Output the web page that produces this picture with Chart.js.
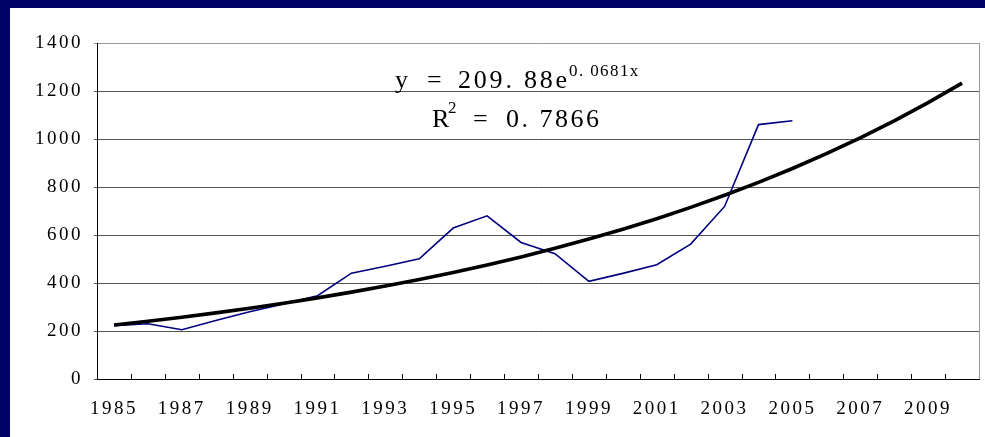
<!DOCTYPE html>
<html>
<head>
<meta charset="utf-8">
<script src="https://cdn.jsdelivr.net/npm/chart.js@4/dist/chart.umd.min.js"></script>
<style>
  html, body { margin: 0; padding: 0; background: #ffffff; overflow: hidden; }
  #topband { position: absolute; left: 0; top: 0; width: 100%; height: 8px; background: #000066; }
  #leftband { position: absolute; left: 0; top: 0; width: 10px; height: 100%; min-height: 437px; background: #000066; }
  #wrap { position: absolute; left: 10px; top: 8px; width: 975px; height: 429px; }
  canvas { display: block; }
</style>
</head>
<body>
<div id="topband"></div>
<div id="leftband"></div>
<div id="wrap"><canvas id="c" width="975" height="429"></canvas></div>
<script>
// Years on the category axis
const years = [1985, 1986, 1987, 1988, 1989, 1990, 1991, 1992, 1993, 1994, 1995, 1996, 1997,
               1998, 1999, 2000, 2001, 2002, 2003, 2004, 2005, 2006, 2007, 2008, 2009, 2010];

// Observed series (1985–2005)
const observed = [222, 230, 205, 244, 280, 313, 347, 441, 470, 501, 629, 680, 569,
                  522, 407, 440, 476, 562, 719, 1060, 1076, null, null, null, null, null];

// Exponential trend y = 209.88e^(0.0681x), x = 1..26
const trend = [224.7, 240.5, 257.5, 275.6, 295.0, 315.8, 338.1, 361.9, 387.4, 414.7, 443.9, 475.2, 508.7,
               544.5, 582.9, 624.0, 667.9, 715.0, 765.4, 819.3, 877.1, 938.9, 1005.1, 1075.9, 1151.7, 1232.9];

// Value-axis ticks
const yTicks = [0, 200, 400, 600, 800, 1000, 1200, 1400];

// Trend equation text
const eqCoef = '209. 88e';
const eqExp = '0. 0681x';
const r2Text = '0. 7866';

const serif = '"Liberation Serif", "DejaVu Serif", serif';

const spacingPlugin = {
  id: 'spacing',
  beforeDraw(chart) { chart.ctx.letterSpacing = '2.5px'; },
  afterDraw(chart) { chart.ctx.letterSpacing = '0px'; }
};

// Right border and inward category tick marks
const framePlugin = {
  id: 'frame',
  afterDraw(chart) {
    const { ctx, chartArea: a, scales } = chart;
    ctx.save();
    ctx.strokeStyle = '#999';
    ctx.lineWidth = 1;
    ctx.beginPath();
    ctx.moveTo(Math.round(a.right) + 0.5, a.top);
    ctx.lineTo(Math.round(a.right) + 0.5, a.bottom);
    ctx.stroke();
    const xs = scales.x;
    const step = xs.getPixelForValue(1) - xs.getPixelForValue(0);
    ctx.strokeStyle = '#000';
    ctx.beginPath();
    for (let i = 1; i < years.length; i++) {
      const px = Math.round(xs.getPixelForValue(i) - step / 2) + 0.5;
      ctx.moveTo(px, a.bottom);
      ctx.lineTo(px, a.bottom - 5);
    }
    ctx.stroke();
    ctx.restore();
  }
};

// Trend equation and R² text
const equationPlugin = {
  id: 'equation',
  afterDraw(chart) {
    const ctx = chart.ctx;
    const a = chart.chartArea;
    const ox = a.left + 298;   // left of the text block
    const oy = a.top + 45;     // baseline of the first line
    ctx.save();
    ctx.fillStyle = '#000';
    ctx.textBaseline = 'alphabetic';
    ctx.textAlign = 'left';
    const big = '26px ' + serif;
    const small = '17px ' + serif;
    ctx.font = big;
    ctx.letterSpacing = '0px';
    ctx.fillText('y', ox, oy);
    ctx.fillText('=', ox + 32, oy);
    ctx.letterSpacing = '2.8px';
    ctx.fillText(eqCoef, ox + 63, oy);
    ctx.font = small;
    ctx.letterSpacing = '1.4px';
    ctx.fillText(eqExp, ox + 174, oy - 12);
    // second line
    const oy2 = oy + 39;
    ctx.font = big;
    ctx.letterSpacing = '0px';
    ctx.fillText('R', ox + 37, oy2);
    ctx.font = small;
    ctx.fillText('2', ox + 53, oy2 - 14);
    ctx.font = big;
    ctx.fillText('=', ox + 78, oy2);
    ctx.letterSpacing = '2.5px';
    ctx.fillText(r2Text, ox + 111, oy2);
    ctx.restore();
  }
};

new Chart(document.getElementById('c'), {
  type: 'line',
  data: {
    labels: years.map(String),
    datasets: [
      {
        data: observed,
        borderColor: '#000080',
        borderWidth: 1.6,
        pointRadius: 0,
        tension: 0,
        spanGaps: false,
        order: 2
      },
      {
        data: trend,
        borderColor: '#000000',
        borderWidth: 3.6,
        pointRadius: 0,
        tension: 0,
        order: 1
      }
    ]
  },
  options: {
    responsive: false,
    animation: false,
    events: [],
    layout: { padding: { top: 35, right: 6, left: 0, bottom: 0 } },
    plugins: {
      legend: { display: false },
      tooltip: { enabled: false },
      title: { display: false }
    },
    scales: {
      x: {
        type: 'category',
        offset: true,
        grid: { display: false, drawTicks: false },
        border: { display: true, color: '#000', width: 1 },
        ticks: {
          autoSkip: false,
          maxRotation: 0,
          minRotation: 0,
          padding: 19,
          color: '#000',
          font: { family: serif, size: 19 },
          callback: (v, i) => (i % 2 === 0 ? years[i] : '')
        },
        afterFit(scale) { scale.height = 58; }
      },
      y: {
        min: yTicks[0],
        max: yTicks[yTicks.length - 1],
        afterBuildTicks(scale) { scale.ticks = yTicks.map(v => ({ value: v })); },
        grid: {
          drawTicks: true,
          tickLength: 3,
          color: ctx => (ctx.tick && ctx.tick.value === 1400 ? '#999' : '#555'),
          lineWidth: 1
        },
        border: { display: true, color: '#000', width: 1 },
        ticks: {
          padding: 11,
          color: '#000',
          font: { family: serif, size: 19 },
          callback: v => String(v)
        },
        afterFit(scale) { scale.width = 87; }
      }
    }
  },
  plugins: [spacingPlugin, framePlugin, equationPlugin]
});
</script>
</body>
</html>
